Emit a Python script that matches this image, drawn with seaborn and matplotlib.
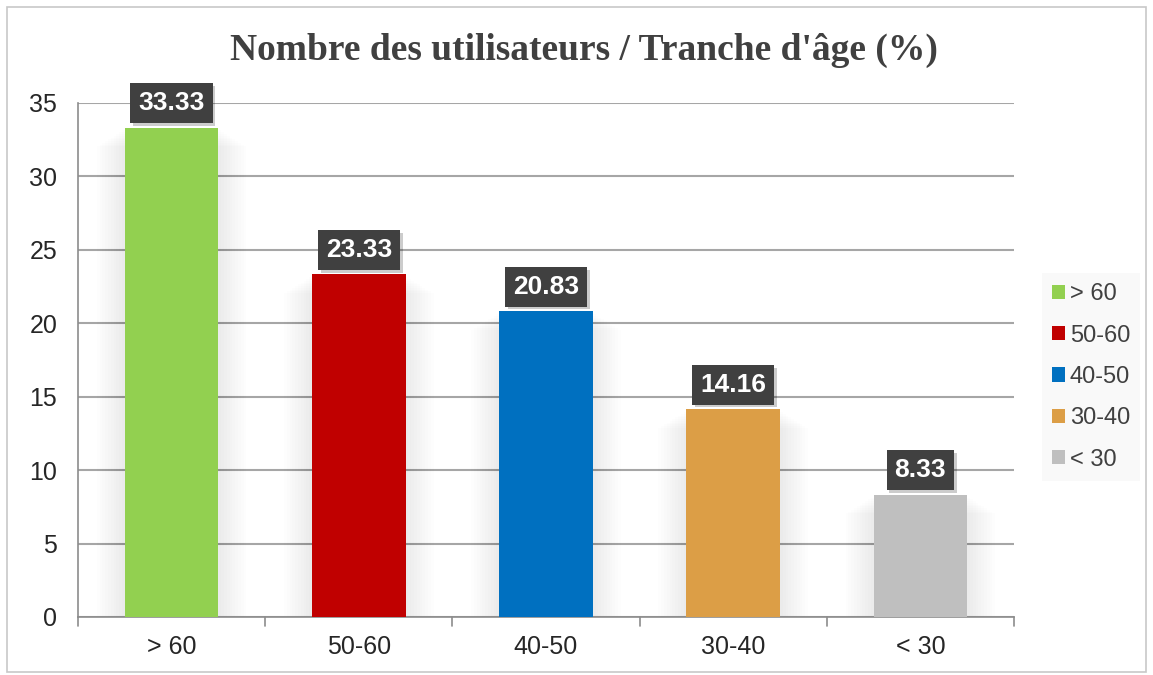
import matplotlib
matplotlib.use("Agg")
import matplotlib.pyplot as plt
import matplotlib.patches as mpatches
import matplotlib.patheffects as pe
import seaborn as sns
import pandas as pd

# données
tranches = ['> 60', '50-60', '40-50', '30-40', '< 30']
pourcentages = [33.33, 23.33, 20.83, 14.16, 8.33]
couleurs = ['#92d050', '#c00000', '#0070c0', '#dc9e46', '#bfbfbf']
yticks = [0, 5, 10, 15, 20, 25, 30, 35]

df = pd.DataFrame({'tranche': tranches, 'pct': pourcentages})

sns.set_style('white')
plt.rcParams['font.family'] = ['Liberation Sans', 'DejaVu Sans']

fig = plt.figure(figsize=(11.53, 6.75), dpi=100)
ax = fig.add_axes([78 / 1153, 1 - 617 / 675, 936 / 1153, 514 / 675])

# bordure du graphique
fig.patches.append(mpatches.Rectangle((7 / 1153, 3 / 675), 1139 / 1153, 665 / 675,
                                      transform=fig.transFigure, fill=False,
                                      edgecolor='#c8c8c8', linewidth=1.2))

# ombre douce derrière les barres
for i, v in enumerate(pourcentages):
    for k in range(10):
        w = 0.5 + 0.03 * (k + 1)
        ax.bar(i, v - 0.2 - 0.12 * k, width=w, color='#000000', alpha=0.009,
               zorder=1, linewidth=0)

sns.barplot(data=df, x='tranche', y='pct', hue='tranche', palette=couleurs,
            width=0.5, saturation=1, legend=True, ax=ax, zorder=3, dodge=False,
            linewidth=0)

ax.set_xlim(-0.5, len(tranches) - 0.5)
ax.set_ylim(0, 35)
ax.set_yticks(yticks)
ax.set_yticklabels([str(t) for t in yticks], fontsize=18)
ax.set_xlabel('')
ax.set_ylabel('')
ax.set_xticks(range(len(tranches)))
ax.set_xticklabels(tranches)
ax.tick_params(axis='x', length=0, labelsize=18, pad=13)
ax.tick_params(axis='y', length=6, width=1.2, color='#8c8c8c', pad=9, direction='out')

# graduations entre catégories
for b in [x - 0.5 for x in range(len(tranches) + 1)]:
    ax.plot([b, b], [0, -0.6], color='#8c8c8c', lw=1.2, clip_on=False, zorder=4)

ax.yaxis.grid(True, color='#a6a6a6', linewidth=1.5, zorder=0)
ax.set_axisbelow(True)
for s in ['top', 'right']:
    ax.spines[s].set_visible(False)
for s in ['left', 'bottom']:
    ax.spines[s].set_color('#8c8c8c')
    ax.spines[s].set_linewidth(1.2)

# étiquettes de valeurs
for i, v in enumerate(pourcentages):
    lab = ax.annotate(f'{v:.2f}', xy=(i, v), xytext=(0, 17.5), textcoords='offset points',
                      ha='center', va='center', color='white', fontsize=19,
                      fontweight='bold', zorder=6,
                      bbox=dict(boxstyle='square,pad=0.3', facecolor='#404040',
                                edgecolor='none'))
    lab.get_bbox_patch().set_path_effects(
        [pe.SimplePatchShadow(offset=(2, -2), shadow_rgbFace='#000000', alpha=0.2),
         pe.Normal()])

fig.text(584 / 1153, 1 - 50 / 675, "Nombre des utilisateurs / Tranche d'âge (%)",
         fontsize=27, fontweight='bold', color='#404040', family='Liberation Serif',
         ha='center', va='center')

leg = ax.legend(loc='center left', frameon=True, borderaxespad=0, fontsize=17,
                handlelength=0.55, handleheight=0.55, handletextpad=0.2,
                labelspacing=0.82, borderpad=0.42, fancybox=False)
leg.set_bbox_to_anchor((1.03, 0.467), transform=ax.transAxes)
leg.get_frame().set_facecolor('#f8f8f8')
leg.get_frame().set_edgecolor('none')
for t in leg.get_texts():
    t.set_color('#404040')

fig.savefig('out.png', dpi=100)
